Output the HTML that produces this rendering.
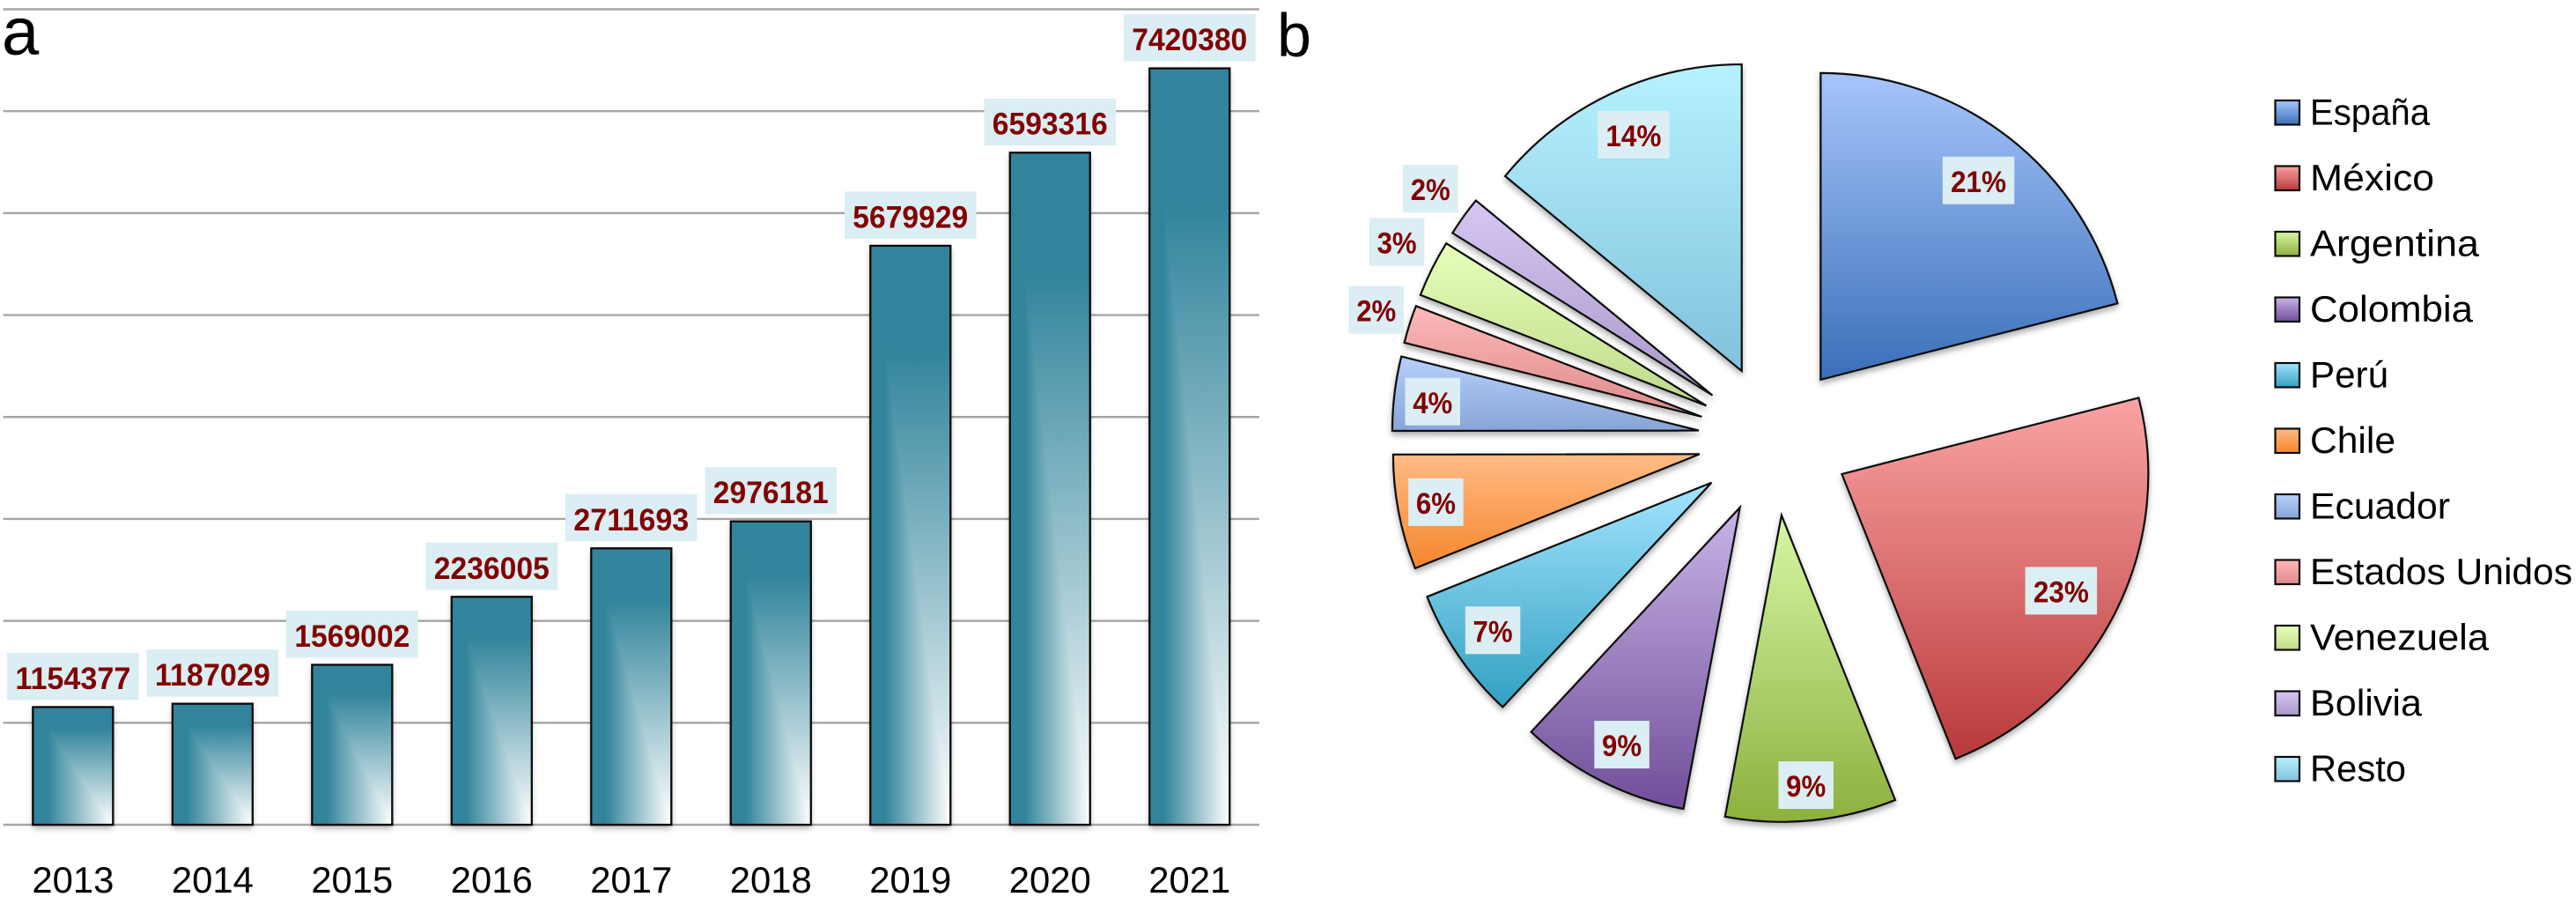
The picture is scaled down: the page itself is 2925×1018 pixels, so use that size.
<!DOCTYPE html>
<html lang="es">
<head>
<meta charset="utf-8">
<title>Chart recreation</title>
<style>
html,body{margin:0;padding:0;background:#fff;}
svg{display:block;}
text{font-family:"Liberation Sans",sans-serif;}
</style>
</head>
<body>
<svg id="chart" xmlns="http://www.w3.org/2000/svg" width="2925" height="1018" viewBox="0 0 2925 1018">
  <defs>
    <filter id="soft-shadow" x="-15%" y="-15%" width="130%" height="130%">
      <feDropShadow dx="0" dy="4" stdDeviation="3.5" flood-color="#000" flood-opacity="0.32"/>
    </filter>
    <linearGradient id="bar-fade-h" x1="0" y1="0" x2="1" y2="0">
      <stop offset="0" stop-color="#31849b"/>
      <stop offset="0.18" stop-color="#31849b"/>
      <stop offset="1" stop-color="#ffffff"/>
    </linearGradient>
    <linearGradient id="bar-fade-v" x1="0" y1="0" x2="0" y2="1">
      <stop offset="0" stop-color="#31849b"/>
      <stop offset="0.18" stop-color="#31849b"/>
      <stop offset="1" stop-color="#ffffff"/>
    </linearGradient>
  </defs>
  <rect x="0" y="0" width="2925" height="1018" fill="#ffffff"/>
  <text x="2" y="62" font-size="76" fill="#000">a</text>
  <text x="1450" y="64" font-size="70" fill="#000">b</text>
  <g id="bar-panel"></g>
  <g id="pie-panel"></g>
  <g id="legend-panel"></g>
</svg>
<script>
// ---- bar chart data ----
const years = ['2013','2014','2015','2016','2017','2018','2019','2020','2021'];
const visits = [1154377,1187029,1569002,2236005,2711693,2976181,5679929,6593316,7420380];
const gridTicks = [0,1000000,2000000,3000000,4000000,5000000,6000000,7000000,8000000];

// ---- pie chart data ----
const countries = ['España','México','Argentina','Colombia','Perú','Chile','Ecuador','Estados Unidos','Venezuela','Bolivia','Resto'];
const shares = [21.0,22.95,9.0,8.98,7.0,6.05,3.9,2.0,3.0,2.08,14.04];
const topColors = ['#a6c5fb','#fba3a3','#d6f7a4','#c8b3e6','#a2e4ff','#ffbb85','#b6d0fb','#ffb8b8','#e6ffb8','#d6c6f3','#b6f2ff'];
const bottomColors = ['#3a6fb8','#b83a3a','#8db03e','#704e99','#32a0c0','#f5862c','#86a4d6','#dd8a8a','#bfd98b','#a998c8','#82c1dc'];

// ---- layout constants ----
const SVG_NS = 'http://www.w3.org/2000/svg';
const plot = {left:3.6, right:1430, top:10.5, bottom:936, max:8000000};
const barWidth = 91;
const pie = {cx:2014.5, cy:499, r:348, explode:86.2};
const sliceLabelDistance = [288.5,282,307.5,300.7,299.6,304.4,304,389,397.4,397,295];
const sliceLabelTurn = [0.6,1.1,0.4,-0.3,0.45,0.66,-0.75,0.6,1.3,0.5,0.67];
const legendBox = {x:2583.5, y:114, size:27.5, step:74.5, textX:2623};
const legendTextWidth = [136,141,192,185,89,97,159,298,203,127,109];

function make(tag, attrs, parent){
  const node = document.createElementNS(SVG_NS, tag);
  for (const k in attrs) node.setAttribute(k, attrs[k]);
  parent.appendChild(node);
  return node;
}
function xBand(i){ return plot.left + (plot.right - plot.left) * (i + 0.5) / years.length; }
function yScale(v){ return plot.bottom - (plot.bottom - plot.top) * v / plot.max; }

const defs = document.querySelector('#chart defs');
const barPanel = document.getElementById('bar-panel');
const piePanel = document.getElementById('pie-panel');
const legendPanel = document.getElementById('legend-panel');

// gridlines
gridTicks.forEach(function(t){
  const line = make('line', {x1:plot.left, x2:plot.right, y1:yScale(t), y2:yScale(t), stroke:'#a6a6a6', 'stroke-width':2.4}, barPanel);
  
  
});

// bars
visits.forEach(function(v, i){
  const cx = xBand(i), x0 = cx - barWidth / 2, x1 = cx + barWidth / 2, top = yScale(v), bottom = yScale(0);
  const g = make('g', {}, barPanel);
  
  
  make('rect', {x:x0, y:top, width:barWidth, height:bottom - top, fill:'url(#bar-fade-h)', filter:'url(#soft-shadow)'}, g);
  make('polygon', {points:x0+','+top+' '+x1+','+top+' '+x1+','+bottom, fill:'url(#bar-fade-v)'}, g);
  make('rect', {x:x0, y:top, width:barWidth, height:bottom - top, fill:'none', stroke:'#0a0a0a', 'stroke-width':2.3}, g);
});

// bar value labels
visits.forEach(function(v, i){
  const cx = xBand(i), top = yScale(v);
  const box = make('rect', {x:cx - 74.8, y:top - 61.5, width:149.6, height:53.5, fill:'#daeef3'}, barPanel);
  
  
  const label = make('text', {x:cx, y:top - 20.5, 'text-anchor':'middle', 'font-size':35, 'font-weight':'bold', fill:'#820000', textLength:131, lengthAdjust:'spacingAndGlyphs'}, barPanel);
  label.textContent = String(v);
  
  
});

// year tick labels
years.forEach(function(y, i){
  const label = make('text', {x:xBand(i), y:1013, 'text-anchor':'middle', 'font-size':42, fill:'#000', textLength:93, lengthAdjust:'spacingAndGlyphs'}, barPanel);
  label.textContent = y;
  
  
});

// gradients shared between pie slices and legend swatches
countries.forEach(function(c, i){
  const grad = make('linearGradient', {id:'slice-grad-' + i, x1:0, y1:0, x2:0, y2:1}, defs);
  make('stop', {offset:0, 'stop-color':topColors[i]}, grad);
  make('stop', {offset:1, 'stop-color':bottomColors[i]}, grad);
});

// pie slices
const totalShare = shares.reduce(function(a, b){ return a + b; }, 0);
function polar(cx, cy, r, angle){ return [cx + r * Math.sin(angle), cy - r * Math.cos(angle)]; }
const sliceLabels = [];
let running = 0;
shares.forEach(function(s, i){
  const a0 = running / totalShare * 2 * Math.PI;
  running += s;
  const a1 = running / totalShare * 2 * Math.PI;
  const mid = (a0 + a1) / 2;
  const apex = polar(pie.cx, pie.cy, pie.explode, mid);
  const p0 = polar(apex[0], apex[1], pie.r, a0);
  const p1 = polar(apex[0], apex[1], pie.r, a1);
  const large = (a1 - a0) > Math.PI ? 1 : 0;
  const d = 'M' + apex[0] + ',' + apex[1] + ' L' + p0[0] + ',' + p0[1] + ' A' + pie.r + ',' + pie.r + ' 0 ' + large + ' 1 ' + p1[0] + ',' + p1[1] + ' Z';
  const slice = make('path', {d:d, fill:'url(#slice-grad-' + i + ')', stroke:'#0a0a0a', 'stroke-width':2.2, 'stroke-linejoin':'miter', filter:'url(#soft-shadow)'}, piePanel);
  
  
  const labelAngle = mid + sliceLabelTurn[i] * Math.PI / 180;
  sliceLabels.push({pos:polar(apex[0], apex[1], sliceLabelDistance[i], labelAngle), text:Math.round(s / totalShare * 100) + '%'});
});

// pie labels
sliceLabels.forEach(function(item){
  const wide = item.text.length > 2;
  const w = wide ? 81.5 : 62.5;
  const box = make('rect', {x:item.pos[0] - w / 2, y:item.pos[1] - 27, width:w, height:54, fill:'#daeef3'}, piePanel);
  
  
  const label = make('text', {x:item.pos[0], y:item.pos[1] + 13, 'text-anchor':'middle', 'font-size':34, 'font-weight':'bold', fill:'#820000', textLength:wide ? 63 : 45, lengthAdjust:'spacingAndGlyphs'}, piePanel);
  label.textContent = item.text;
  
  
});

// legend
countries.forEach(function(c, i){
  const y = legendBox.y + i * legendBox.step;
  const entry = make('g', {}, legendPanel);
  
  
  const swatch = make('rect', {x:legendBox.x, y:y, width:legendBox.size, height:legendBox.size, fill:'url(#slice-grad-' + i + ')', stroke:'#0a0a0a', 'stroke-width':2.2}, entry);
  
  
  const label = make('text', {x:legendBox.textX, y:y + 27.5, 'font-size':42, fill:'#000', textLength:legendTextWidth[i], lengthAdjust:'spacingAndGlyphs'}, entry);
  label.textContent = c;
  
  
});
</script>
</body>
</html>
